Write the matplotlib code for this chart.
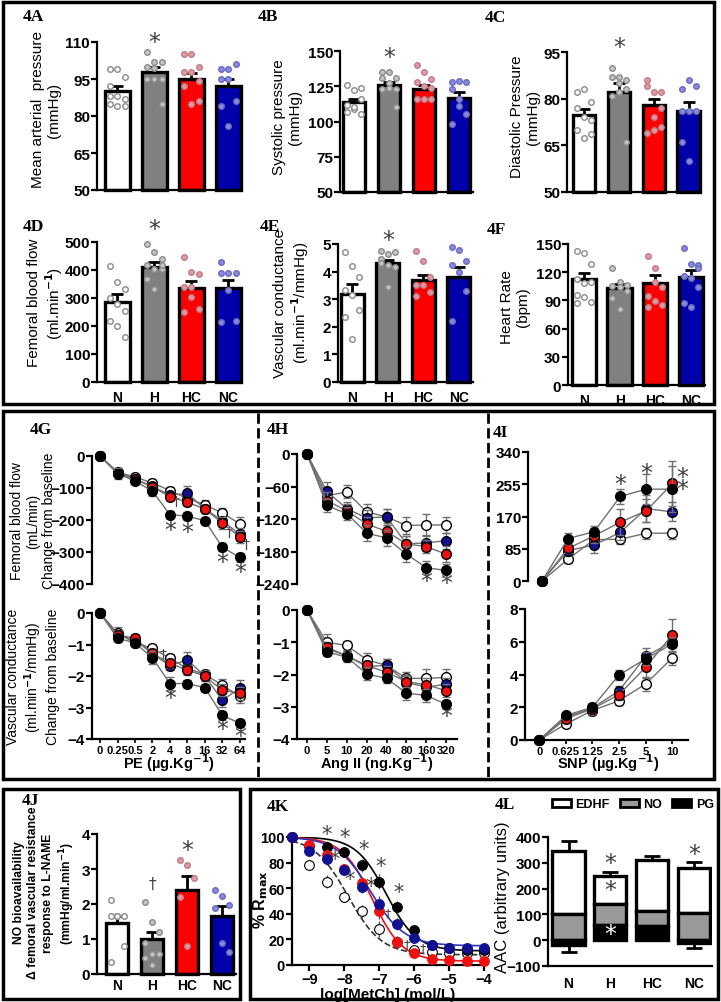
import matplotlib
matplotlib.use('Agg')
import matplotlib.pyplot as plt
from matplotlib.patches import Rectangle, Patch
from matplotlib.lines import Line2D
import numpy as np

plt.rcParams['font.family'] = ['Liberation Sans Narrow', 'Liberation Sans', 'DejaVu Sans']
plt.rcParams['font.weight'] = 'bold'

W, H = 721, 1003
fig = plt.figure(figsize=(W / 100, H / 100), dpi=100)

GROUPS = ['N', 'H', 'HC', 'NC']
BAR_COLORS = ['white', '#808080', '#ff0000', '#0000aa']
DOT_FACE = ['white', '#c4c4c4', '#e49aa4', '#8a8ae0']
DOT_EDGE = ['#8a8a8a', '#8a8a8a', '#c07c86', '#6a6ac0']
LINE_FACE = {'N': 'white', 'H': 'black', 'HC': '#ee1111', 'NC': '#101090'}

# ---- 4A-4F bar data ----
MAP_MEAN = [90, 98, 95, 92]
MAP_SEM = [2, 2, 2.5, 3]
MAP_PTS = [[99, 99, 96, 92, 88, 87, 88, 84, 84, 85],
           [106, 102, 102, 100, 99.5, 95, 95, 95, 85],
           [105, 105, 100, 98, 98, 94, 92, 85, 86],
           [99, 99, 101, 95, 95, 86, 84, 76]]

SBP_MEAN = [114, 126, 123, 117]
SBP_SEM = [2, 2, 3, 4]
SBP_PTS = [[126, 122, 124, 112, 109, 105, 107, 110, 116],
           [135, 135, 131, 131, 127, 123, 123, 124, 110],
           [140, 135, 130, 128, 125, 116, 116, 116, 124],
           [128, 129, 128, 123, 111, 105, 98, 116]]

DBP_MEAN = [74.7, 82, 78, 76]
DBP_SEM = [2, 3, 2, 3]
DBP_PTS = [[82, 83, 79, 77, 74, 73, 70, 67.5, 68.5],
           [90, 87, 86, 87, 85, 83, 81, 82, 66],
           [86, 82, 82, 84, 74, 71, 69, 70, 77],
           [83, 86, 84, 76, 76, 76, 66, 60]]

FBF_MEAN = [285, 410, 335, 335]
FBF_SEM = [30, 18, 25, 30]
FBF_PTS = [[413, 356, 332, 300, 279, 255, 219, 201, 160],
           [493, 465, 439, 418, 404, 404, 368, 332, 418],
           [445, 394, 386, 338, 302, 261, 249, 338],
           [427, 389, 389, 389, 330, 219, 215]]

VC_MEAN = [3.2, 4.3, 3.7, 3.8]
VC_SEM = [0.35, 0.12, 0.18, 0.35]
VC_PTS = [[4.7, 4.2, 3.8, 3.35, 3.15, 2.6, 2.35, 1.55],
          [4.76, 4.64, 4.7, 4.46, 4.24, 4.15, 4.3, 3.43],
          [4.76, 4.4, 3.8, 3.5, 3.5, 3.25, 3.1],
          [4.9, 4.8, 4.4, 4.25, 4.0, 3.3, 2.2]]

HR_MEAN = [113, 103, 109, 115]
HR_SEM = [6, 4, 8, 7]
HR_PTS = [[143, 140, 129, 113, 108, 110, 96, 94, 88, 87],
          [125, 110, 106, 105, 104, 100, 93, 81],
          [137, 125, 104, 95, 89, 85, 83, 110],
          [146, 129, 128, 116, 114, 104, 87, 83, 125]]

# ---- 4G-4I dose responses ----
PE_DOSES = ['0', '0.25', '0.5', '2', '4', '8', '16', '32', '64']
ANG_DOSES = ['0', '5', '10', '20', '40', '80', '160', '320']
SNP_DOSES = ['0', '0.625', '1.25', '2.5', '5', '10']

G_FBF = {'N': [0, -50, -66, -84, -108, -133, -152, -178, -212],
         'H': [0, -55, -78, -110, -183, -188, -202, -285, -317],
         'HC': [0, -52, -72, -97, -127, -145, -165, -210, -253],
         'NC': [0, -52, -72, -95, -122, -117, -165, -202, -245]}
G_FBF_ERR = {'N': [0, 12, 10, 12, 10, 12, 15, 15, 20],
             'H': [0, 18, 8, 15, 12, 12, 6, 12, 15],
             'HC': [0, 10, 10, 12, 12, 10, 12, 18, 18],
             'NC': [0, 10, 10, 10, 10, 22, 12, 12, 20]}
G_VC = {'N': [0, -0.64, -0.95, -1.12, -1.44, -1.76, -1.95, -2.29, -2.65],
        'H': [0, -0.8, -0.95, -1.42, -2.24, -2.24, -2.37, -3.25, -3.5],
        'HC': [0, -0.7, -0.8, -1.28, -1.6, -1.81, -2.0, -2.45, -2.55],
        'NC': [0, -0.7, -0.85, -1.3, -1.67, -1.49, -2.0, -2.77, -2.39]}
G_VC_ERR = {'N': [0, 0.2, 0.12, 0.15, 0.15, 0.15, 0.15, 0.2, 0.2],
            'H': [0, 0.12, 0.1, 0.2, 0.2, 0.12, 0.1, 0.15, 0.12],
            'HC': [0, 0.12, 0.12, 0.15, 0.15, 0.15, 0.15, 0.2, 0.2],
            'NC': [0, 0.12, 0.12, 0.15, 0.15, 0.25, 0.15, 0.2, 0.25]}

H_FBF = {'N': [0, -77, -70, -107, -116, -132, -131, -131],
         'H': [0, -95, -110, -146, -155, -185, -210, -215],
         'HC': [0, -86, -105, -129, -143, -166, -171, -185],
         'NC': [0, -69, -101, -118, -116, -166, -164, -160]}
H_FBF_ERR = {'N': [0, 12, 12, 15, 15, 15, 20, 15],
             'H': [0, 12, 12, 15, 15, 15, 12, 12],
             'HC': [0, 15, 12, 12, 15, 15, 12, 15],
             'NC': [0, 18, 12, 15, 15, 15, 15, 15]}
H_VC = {'N': [0, -1.0, -1.1, -1.54, -1.72, -2.12, -2.12, -2.09],
        'H': [0, -1.3, -1.46, -1.98, -2.12, -2.58, -2.65, -2.93],
        'HC': [0, -1.15, -1.42, -1.72, -1.93, -2.22, -2.32, -2.5],
        'NC': [0, -1.2, -1.42, -1.75, -1.72, -2.25, -2.39, -2.3]}
H_VC_ERR = {'N': [0, 0.25, 0.15, 0.2, 0.2, 0.2, 0.3, 0.25],
            'H': [0, 0.12, 0.15, 0.2, 0.15, 0.2, 0.2, 0.15],
            'HC': [0, 0.15, 0.15, 0.15, 0.2, 0.2, 0.2, 0.2],
            'NC': [0, 0.15, 0.15, 0.15, 0.2, 0.2, 0.2, 0.2]}

I_FBF = {'N': [0, 58, 109, 110, 126, 126],
         'H': [0, 112, 130, 223, 242, 242],
         'HC': [0, 86, 119, 155, 185, 257],
         'NC': [0, 80, 95, 128, 191, 182]}
I_FBF_ERR = {'N': [0, 10, 12, 12, 15, 15],
             'H': [0, 15, 15, 20, 40, 60],
             'HC': [0, 12, 20, 35, 30, 60],
             'NC': [0, 15, 20, 20, 35, 25]}
I_VC = {'N': [0, 0.98, 1.8, 2.4, 3.41, 5.0],
        'H': [0, 1.5, 2.0, 3.97, 4.95, 5.86],
        'HC': [0, 1.3, 1.9, 2.77, 4.44, 6.4],
        'NC': [0, 1.4, 1.95, 3.0, 5.1, 6.0]}
I_VC_ERR = {'N': [0, 0.15, 0.25, 0.25, 0.4, 0.4],
            'H': [0, 0.2, 0.2, 0.3, 0.4, 0.4],
            'HC': [0, 0.2, 0.3, 0.3, 0.6, 1.0],
            'NC': [0, 0.2, 0.3, 0.3, 0.5, 0.4]}

# ---- 4J ----
NO_MEAN = [1.45, 1.0, 2.4, 1.65]
NO_SEM = [0.2, 0.2, 0.4, 0.3]
NO_PTS = [[2.12, 1.65, 1.65, 1.65, 1.65, 0.8, 0.35],
          [2.07, 1.5, 1.2, 0.9, 0.57, 0.57, 0.45, 0.26],
          [3.27, 3.11, 2.75, 2.2, 0.8],
          [2.4, 2.24, 1.97, 1.9, 0.9, 0.62]]

# ---- 4K ----
LOG_METCH = [-9.5, -9, -8.5, -8, -7.5, -7, -6.5, -6, -5.5, -5, -4.5, -4]
K_RESP = {'N': [100, 78, 65, 53, 42, 28, 18, 12, 10, 9, 9, 9],
          'H': [100, 93, 92, 88, 78, 65, 45, 27, 16, 13, 12, 12],
          'HC': [100, 94, 86, 75, 64, 42, 18, 9, 5, 4, 3, 3],
          'NC': [100, 89, 83, 74, 61, 48, 32, 21, 16, 13, 13, 13]}
K_ERR = [0, 3, 5, 4, 5, 6, 5, 3, 2, 2, 2, 2]
K_BOTTOM = {'N': 8, 'H': 11, 'HC': 3, 'NC': 15}
K_LOGEC50 = {'N': -7.9, 'H': -6.8, 'HC': -7.2, 'NC': -7.25}
K_HILL = {'N': 0.9, 'H': 1.0, 'HC': 1.0, 'NC': 0.9}

# ---- 4L ----
L_PG = [-20, 60, 55, -10]
L_PG_ERR = [25, 20, 22, 22]
L_NO = [100, 80, 60, 105]
L_NO_ERR = [20, 15, 13, 20]
L_EDHF = [245, 108, 197, 173]
L_EDHF_ERR = [40, 17, 16, 27]


def add_ax(l, t, r, b):
    return fig.add_axes([l / W, 1 - b / H, (r - l) / W, (b - t) / H])


def ftext(x, y, s, **kw):
    fig.text(x / W, 1 - y / H, s, **kw)


def style(ax, bottom=True, ysize=11):
    for s in ['top', 'right']:
        ax.spines[s].set_visible(False)
    ax.spines['left'].set_linewidth(1.6)
    ax.spines['bottom'].set_linewidth(1.6)
    ax.spines['bottom'].set_visible(bottom)
    ax.tick_params(axis='y', length=4, width=1.6, pad=1, labelsize=ysize)


def star(ax, x, y, s='*', color='#404040', size=17):
    ax.text(x, y, s, ha='center', va='center', fontsize=size, color=color,
            family='DejaVu Sans', weight='normal', clip_on=False)


def bar_panel(box, means, sems, pts, ylim, yticks, xlim, width, star_y=None, show_x=False):
    ax = add_ax(*box)
    x = np.arange(4)
    base = ylim[0]
    ax.bar(x, np.array(means) - base, width, bottom=base, color=BAR_COLORS,
           edgecolor='black', linewidth=2.4, zorder=2, clip_on=False)
    ax.errorbar(x, means, yerr=[np.zeros(4), sems], fmt='none', ecolor='black',
                elinewidth=2, capsize=4.5, capthick=2, zorder=3)
    for i, p in enumerate(pts):
        off = (np.arange(len(p)) % 3 - 1) * width * 0.3
        ax.scatter(i + off, p, s=16, facecolor=DOT_FACE[i], edgecolor=DOT_EDGE[i],
                   linewidth=1, zorder=4, clip_on=False)
    ax.set_xlim(*xlim)
    ax.set_ylim(*ylim)
    ax.set_yticks(yticks)
    style(ax)
    if show_x:
        ax.set_xticks(x, GROUPS, fontsize=10)
        ax.tick_params(axis='x', length=0, pad=6)
    else:
        ax.set_xticks([])
    if star_y is not None:
        star(ax, 1, star_y)
    return ax


ORDER = ['N', 'NC', 'HC', 'H']


def line_panel(box, data, errs, ylim, yticks, xlim, ticklabels=None):
    ax = add_ax(*box)
    x = np.arange(len(data['N']))
    for k, g in enumerate(ORDER):
        ax.errorbar(x, data[g], yerr=errs[g], color='#707070', lw=1, ecolor='#707070',
                    elinewidth=1, capsize=3, capthick=1, marker='o', ms=7,
                    mfc=LINE_FACE[g], mec='black', mew=1, zorder=3 + k, clip_on=False)
    ax.set_xlim(*xlim)
    ax.set_ylim(*ylim)
    ax.set_yticks(yticks)
    style(ax, bottom=ticklabels is not None)
    if ticklabels is not None:
        ax.set_xticks(x, ticklabels, fontsize=8)
        ax.tick_params(axis='x', length=3, width=1.2, pad=1)
    else:
        ax.set_xticks([])
    return ax


# ---------- 4A-4F ----------
bar_panel((97, 43, 241, 191), MAP_MEAN, MAP_SEM, MAP_PTS, (50, 110), [50, 65, 80, 95, 110],
          (-0.55, 3.35), 0.68, star_y=110)
bar_panel((340, 52, 473, 193), SBP_MEAN, SBP_SEM, SBP_PTS, (50, 150), [50, 75, 100, 125, 150],
          (-0.4, 3.4), 0.65, star_y=146)
bar_panel((567, 53, 701, 193), DBP_MEAN, DBP_SEM, DBP_PTS, (50, 95), [50, 65, 80, 95],
          (-0.49, 3.35), 0.65, star_y=96.5)
bar_panel((97, 243, 241, 383), FBF_MEAN, FBF_SEM, FBF_PTS, (0, 500), [0, 100, 200, 300, 400, 500],
          (-0.55, 3.35), 0.68, star_y=545, show_x=True)
bar_panel((338, 245, 473, 383), VC_MEAN, VC_SEM, VC_PTS, (0, 5), [0, 1, 2, 3, 4, 5],
          (-0.4, 3.4), 0.65, star_y=5.15, show_x=True)
bar_panel((568, 245, 705, 386), HR_MEAN, HR_SEM, HR_PTS, (0, 150), [0, 30, 60, 90, 120, 150],
          (-0.45, 3.4), 0.68, show_x=True)

lab_kw = dict(rotation=90, ha='center', va='center', fontsize=11, weight='normal',
              family=['Liberation Sans', 'DejaVu Sans'], multialignment='center', linespacing=1.1)
ftext(46, 110, 'Mean arterial  pressure\n(mmHg)', **lab_kw)
ftext(287, 117, 'Systolic pressure\n(mmHg)', **lab_kw)
ftext(525, 117, 'Diastolic Pressure\n(mmHg)', **lab_kw)
ftext(46, 303, 'Femoral blood flow\n(ml.min$^{-1}$)', **lab_kw)
ftext(292, 303, 'Vascular conductance\n(ml.min$^{-1}$/mmHg)', **lab_kw)
ftext(515, 307, 'Heart Rate\n(bpm)', **lab_kw)

# ---------- 4G-4I ----------
ax = line_panel((92, 457, 245, 585), G_FBF, G_FBF_ERR, (-400, 0), [-400, -300, -200, -100, 0], (-0.46, 8.3))
for xx, yy in [(4, -230), (5, -237), (7, -331), (8, -362)]:
    star(ax, xx, yy)
for xx, yy in [(4.35, -141), (7.4, -237), (8.35, -275)]:
    star(ax, xx, yy, '†', size=10)
ax = line_panel((92, 614, 245, 740), G_VC, G_VC_ERR, (-4, 0), [-4, -3, -2, -1, 0], (-0.46, 8.3), PE_DOSES)
for xx, yy in [(4, -2.7), (7, -3.67), (8, -3.9)]:
    star(ax, xx, yy)
star(ax, 3.6, -1.3, '†', size=10)

ax = line_panel((297, 455, 457, 585), H_FBF, H_FBF_ERR, (-240, 0), [-240, -180, -120, -60, 0], (-0.5, 7.54))
for xx, yy in [(6, -234), (7, -238)]:
    star(ax, xx, yy)
ax = line_panel((297, 611, 457, 740), H_VC, H_VC_ERR, (-4, 0), [-4, -3, -2, -1, 0], (-0.5, 7.54), ANG_DOSES)
star(ax, 7, -3.3)

ax = line_panel((528, 453, 688, 582), I_FBF, I_FBF_ERR, (0, 340), [0, 85, 170, 255, 340], (-0.54, 5.6))
for xx, yy in [(3, 255), (4, 284), (5.38, 275), (5.38, 243)]:
    star(ax, xx, yy)
line_panel((525, 610, 688, 741), I_VC, I_VC_ERR, (0, 8), [0, 2, 4, 6, 8], (-0.54, 5.6), SNP_DOSES)

lab3 = dict(lab_kw, fontsize=10, linespacing=1.2)
ftext(33, 521, 'Femoral blood flow\n(mL/min)\nChange from baseline', **lab3)
ftext(33, 677, 'Vascular conductance\n(ml.min$^{-1}$/mmHg)\nChange from baseline', **lab3)
ftext(169, 763, 'PE (µg.Kg$^{-1}$)', ha='center', va='center', fontsize=10.5)
ftext(377, 763, 'Ang II (ng.Kg$^{-1}$)', ha='center', va='center', fontsize=10.5)
ftext(608, 763, 'SNP (µg.Kg$^{-1}$)', ha='center', va='center', fontsize=10.5)

# ---------- 4J ----------
ax = bar_panel((97, 835, 236, 975), NO_MEAN, NO_SEM, NO_PTS, (0, 4), [0, 1, 2, 3, 4],
               (-0.58, 3.4), 0.64, show_x=True)
ax.tick_params(axis='x', pad=3)
star(ax, 2, 3.55)
star(ax, 1, 2.6, '†', size=11)
ftext(45, 893, 'NO bioavailability\nΔ femoral vascular resistance\nresponse to L-NAME\n(mmHg/ml.min$^{-1}$)',
      rotation=90, ha='center', va='center', fontsize=8.7, weight='bold',
      family=['Liberation Sans', 'DejaVu Sans'], multialignment='center', linespacing=1.25)

# ---------- 4K ----------
axk = add_ax(292, 838, 484, 966)
xs = np.linspace(-9.5, -4, 300)
curve_style = {'N': ('#333333', '--'), 'H': ('black', '-'), 'HC': ('#ee1111', '-'), 'NC': ('#3030c0', '-')}
for g in ['N', 'H', 'HC', 'NC']:
    fit = K_BOTTOM[g] + (100 - K_BOTTOM[g]) / (1 + 10 ** ((xs - K_LOGEC50[g]) * K_HILL[g]))
    c, ls = curve_style[g]
    axk.plot(xs, fit, color=c, ls=ls, lw=1.2, zorder=2)
for k, g in enumerate(['N', 'H', 'HC', 'NC']):
    axk.errorbar(LOG_METCH, K_RESP[g], yerr=K_ERR, fmt='o', ms=7, mfc=LINE_FACE[g],
                 mec='black' if g == 'N' else LINE_FACE[g],
                 mew=0.8, ecolor='#555555', elinewidth=1, capsize=0, zorder=3 + k, clip_on=False)
axk.set_xlim(-9.5, -4)
axk.set_ylim(0, 100)
axk.set_xticks([-9, -8, -7, -6, -5, -4])
axk.set_yticks([0, 20, 40, 60, 80, 100])
style(axk, ysize=10.5)
axk.tick_params(axis='x', length=4, width=1.6, pad=1, labelsize=10.5)
for xx, yy in [(-8.5, 102), (-8.0, 100), (-7.44, 91), (-6.95, 77), (-6.46, 57)]:
    star(axk, xx, yy, size=15)
for xx, yy in [(-8.27, 83), (-7.84, 67), (-7.24, 62)]:
    star(axk, xx, yy, size=15)
for xx, yy in [(-6.75, 41), (-6.2, 17), (-5.75, 14)]:
    star(axk, xx, yy, '†', size=9)
ftext(261, 900, '% R$_{\\mathrm{max}}$', rotation=90, ha='center', va='center', fontsize=11.5)
ftext(388, 995, 'log[MetCh] (mol/L)', ha='center', va='center', fontsize=11)

# ---------- 4L ----------
axl = add_ax(548, 838, 712, 967)
x = np.arange(4)
pg = np.array(L_PG)
no = np.array(L_NO)
ed = np.array(L_EDHF)
no_base = np.maximum(pg, 0)
ed_base = no_base + no
bw = 0.77
axl.bar(x, ed, bw, bottom=ed_base, color='white', edgecolor='black', lw=2.4, zorder=2)
axl.bar(x, no, bw, bottom=no_base, color='#999999', edgecolor='black', lw=2.4, zorder=2)
axl.bar(x, pg, bw, color='black', edgecolor='black', lw=2.4, zorder=2)
err_kw = dict(fmt='none', ecolor='black', elinewidth=2, capsize=6, capthick=2, zorder=1)
axl.errorbar(x, ed_base + ed, yerr=[np.zeros(4), L_EDHF_ERR], **err_kw)
axl.errorbar(x, no_base + no, yerr=[np.zeros(4), L_NO_ERR], **err_kw)
pg_err = np.array(L_PG_ERR)
axl.errorbar(x, pg, yerr=[np.where(pg < 0, pg_err, 0), np.where(pg > 0, pg_err, 0)], **err_kw)
axl.set_xlim(-0.49, 3.43)
axl.set_ylim(-100, 400)
axl.set_yticks([-100, 0, 100, 200, 300, 400])
style(axl)
axl.set_xticks(x, GROUPS, fontsize=10)
axl.tick_params(axis='x', length=0, pad=7)
star(axl, 1, 300, size=17)
star(axl, 1, 195, size=17)
star(axl, 1, 25, color='white', size=17)
star(axl, 3, 335, size=17)
handles = [Patch(facecolor='white', edgecolor='black', lw=2),
           Patch(facecolor='#999999', edgecolor='black', lw=2),
           Patch(facecolor='black', edgecolor='black', lw=2)]
axl.legend(handles, ['EDHF', 'NO', 'PG'], ncol=3, loc='center', frameon=False,
           bbox_to_anchor=(633 / W, 1 - 805 / H), bbox_transform=fig.transFigure,
           handlelength=1.5, handleheight=0.6, columnspacing=0.8, handletextpad=0.4, fontsize=9)
ftext(503, 897, 'AAC (arbitrary units)', rotation=90, ha='center', va='center', fontsize=12,
      weight='normal', family=['Liberation Sans', 'DejaVu Sans'])

# ---------- panel labels ----------
for s, xx, yy in [('4A', 23, 17), ('4B', 258, 17), ('4C', 485, 18), ('4D', 23, 227), ('4E', 260, 227),
                  ('4F', 487, 230), ('4G', 30, 430), ('4H', 267, 430), ('4I', 493, 433),
                  ('4J', 22, 801), ('4K', 267, 807), ('4L', 495, 805)]:
    ftext(xx, yy, s, ha='left', va='center', fontsize=12.5, weight='bold',
          family=['Liberation Serif', 'DejaVu Serif'])

# ---------- frames ----------
for l, t, r, b in [(3, 3, 714, 405), (3, 412, 714, 780), (3, 790, 240, 1000), (250, 790, 718, 1000)]:
    fig.add_artist(Rectangle((l / W, 1 - b / H), (r - l) / W, (b - t) / H, transform=fig.transFigure,
                             fill=False, lw=2.5, edgecolor='black'))
for xx in [258, 488]:
    fig.add_artist(Line2D([xx / W, xx / W], [1 - 414 / H, 1 - 778 / H], transform=fig.transFigure,
                          ls='--', lw=2, color='black'))

fig.savefig('out.png', dpi=100)
